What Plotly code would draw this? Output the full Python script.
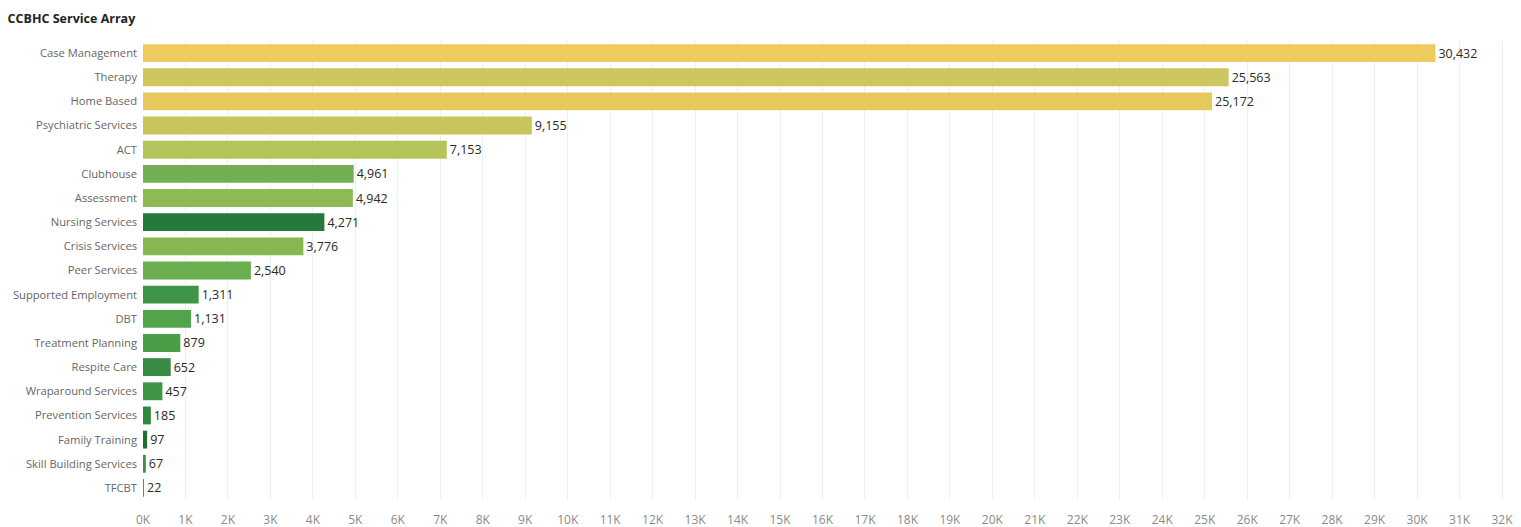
import plotly.graph_objects as go

# Service counts, listed top to bottom
services = [
    "Case Management", "Therapy", "Home Based", "Psychiatric Services", "ACT",
    "Clubhouse", "Assessment", "Nursing Services", "Crisis Services", "Peer Services",
    "Supported Employment", "DBT", "Treatment Planning", "Respite Care",
    "Wraparound Services", "Prevention Services", "Family Training",
    "Skill Building Services", "TFCBT",
]
counts = [
    30432, 25563, 25172, 9155, 7153,
    4961, 4942, 4271, 3776, 2540,
    1311, 1131, 879, 652,
    457, 185, 97,
    67, 22,
]
bar_colors = [
    "#EFCA5E", "#CDC55E", "#E5C95C", "#C8C55A", "#B4C35A",
    "#74AE52", "#8EBA55", "#237A3B", "#87B653", "#6AAE4E",
    "#3E9546", "#52A44B", "#4A9E48", "#378B42",
    "#409646", "#2F8A40", "#1F6E35",
    "#3D9446", "#4A9E48",
]
tick_values = list(range(0, 33000, 1000))
tick_labels = [f"{v // 1000}K" for v in tick_values]

FONT = "Open Sans, sans-serif"

fig = go.Figure(
    go.Bar(
        x=counts,
        y=services,
        orientation="h",
        marker=dict(color=bar_colors, line=dict(width=0)),
        text=[f"{c:,}" for c in counts],
        textposition="outside",
        textfont=dict(family=FONT, size=12.5, color="#2A2A2A"),
        cliponaxis=False,
        width=0.74,
    )
)

fig.update_layout(
    width=1521,
    height=527,
    margin=dict(l=143, r=0, t=41, b=27),
    paper_bgcolor="white",
    plot_bgcolor="white",
    showlegend=False,
    title=dict(
        text="<b>CCBHC Service Array</b>",
        x=0.005, xanchor="left", y=0.965, yanchor="middle",
        font=dict(family=FONT, size=12.5, color="#222222"),
    ),
    xaxis=dict(
        range=[0, 32447],
        tickvals=tick_values,
        ticktext=tick_labels,
        showgrid=True,
        gridcolor="#EFEFEF",
        gridwidth=1,
        zeroline=False,
        showline=False,
        ticks="",
        tickfont=dict(family=FONT, size=12, color="#8A8A8A"),
        ticklabelstandoff=11,
    ),
    yaxis=dict(
        categoryorder="array",
        categoryarray=services[::-1],
        autorange=False,
        range=[-0.5, len(services) - 0.5],
        showgrid=False,
        zeroline=False,
        showline=False,
        ticks="",
        tickfont=dict(family=FONT, size=11.2, color="#666666"),
        ticklabelstandoff=5,
    ),
)

fig.write_html("out.html")
